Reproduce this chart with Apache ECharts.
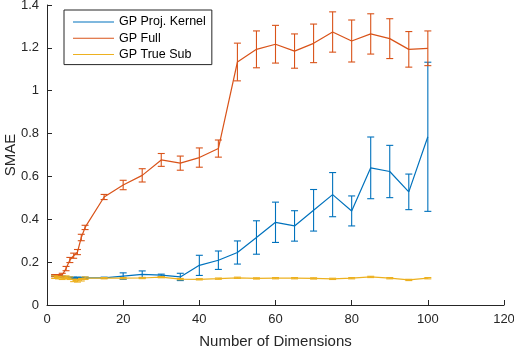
<!DOCTYPE html>
<html>
<head>
<meta charset="utf-8">
<script src="https://cdn.jsdelivr.net/npm/echarts@6/dist/echarts.min.js"></script>
<style>
	html, body { margin: 0; padding: 0; background: #fff; }
	#chart { width: 514px; height: 350px; }
</style>
</head>
<body>
<div id="chart"></div>
<script>
	// number of dimensions, same for all three methods
	var dims = [2, 3, 4, 5, 6, 7, 8, 9, 10, 15, 20, 25, 30, 35, 40, 45, 50, 55, 60, 65, 70, 75, 80, 85, 90, 95, 100]

	var projMean = [0.137, 0.135, 0.132, 0.128, 0.127, 0.127, 0.127, 0.126, 0.127, 0.127, 0.135, 0.143, 0.139, 0.131, 0.185, 0.209, 0.245, 0.315, 0.386, 0.369, 0.442, 0.515, 0.439, 0.640, 0.623, 0.528, 0.785]
	var projErr = [0.003, 0.003, 0.003, 0.003, 0.003, 0.003, 0.003, 0.003, 0.003, 0.003, 0.015, 0.016, 0.005, 0.017, 0.047, 0.043, 0.054, 0.078, 0.094, 0.071, 0.097, 0.103, 0.070, 0.144, 0.122, 0.083, 0.348]

	var fullMean = [0.137, 0.137, 0.140, 0.170, 0.210, 0.230, 0.247, 0.315, 0.362, 0.504, 0.560, 0.605, 0.677, 0.662, 0.688, 0.730, 1.134, 1.193, 1.217, 1.185, 1.221, 1.274, 1.232, 1.265, 1.243, 1.193, 1.198]
	var fullErr = [0.005, 0.005, 0.008, 0.010, 0.012, 0.012, 0.012, 0.015, 0.010, 0.012, 0.022, 0.031, 0.030, 0.033, 0.045, 0.040, 0.088, 0.086, 0.088, 0.080, 0.090, 0.094, 0.098, 0.094, 0.093, 0.083, 0.081]

	var subMean = [0.130, 0.128, 0.125, 0.130, 0.125, 0.115, 0.113, 0.118, 0.125, 0.125, 0.125, 0.126, 0.130, 0.121, 0.120, 0.123, 0.127, 0.124, 0.125, 0.125, 0.124, 0.122, 0.125, 0.131, 0.125, 0.117, 0.125]
	var subErr = [0.006, 0.006, 0.006, 0.006, 0.006, 0.006, 0.006, 0.006, 0.006, 0.003, 0.003, 0.003, 0.003, 0.003, 0.003, 0.003, 0.003, 0.003, 0.003, 0.003, 0.003, 0.003, 0.003, 0.003, 0.003, 0.003, 0.003]

	var names = ['GP Proj. Kernel', 'GP Full', 'GP True Sub']
	var colors = ['#0072BD', '#D95319', '#EDB120']
	var means = [projMean, fullMean, subMean]
	var errs = [projErr, fullErr, subErr]

	var axisColor = '#262626'
	var font = '"Liberation Sans", Arial, Helvetica, sans-serif'

	var chart = echarts.init(document.getElementById('chart'), null, { renderer: 'canvas' })

	function renderBar(params, api) {
		var x = api.value(0)
		var top = api.coord([x, api.value(2)])
		var bot = api.coord([x, api.value(1)])
		var w = 3.5
		var style = { stroke: api.visual('color'), lineWidth: 1.1 }
		return {
			type: 'group',
			children: [
				{ type: 'line', shape: { x1: top[0], y1: top[1], x2: bot[0], y2: bot[1] }, style: style },
				{ type: 'line', shape: { x1: top[0] - w, y1: top[1], x2: top[0] + w, y2: top[1] }, style: style },
				{ type: 'line', shape: { x1: bot[0] - w, y1: bot[1], x2: bot[0] + w, y2: bot[1] }, style: style }
			]
		}
	}

	var series = []
	for (let s = 0; s < names.length; s++) {
		const lineData = []
		const barData = []
		for (let i = 0; i < dims.length; i++) {
			lineData.push([dims[i], means[s][i]])
			barData.push([dims[i], means[s][i] - errs[s][i], means[s][i] + errs[s][i]])
		}
		series.push({
			name: names[s],
			type: 'line',
			data: lineData,
			symbol: 'none',
			color: colors[s],
			lineStyle: { width: 1.2, color: colors[s] },
			z: 2 + s * 2,
			animation: false
		})
		series.push({
			name: names[s],
			type: 'custom',
			data: barData,
			renderItem: renderBar,
			color: colors[s],
			encode: { x: 0, y: [1, 2] },
			z: 2 + s * 2,
			animation: false
		})
	}

	var option = {
		backgroundColor: '#fff',
		animation: false,
		textStyle: { fontFamily: font },
		grid: {
			left: 47,
			right: 10,
			top: 5,
			bottom: 45,
			outerBoundsMode: 'none',
			containLabel: false
		},
		legend: {
			data: names.map(function (n, i) {
				return { name: n, icon: 'path://M0,0L40,0L40,1L0,1Z', itemStyle: { color: colors[i] } }
			}),
			orient: 'vertical',
			left: 64,
			top: 10,
			itemWidth: 41,
			itemHeight: 2,
			itemGap: 2.3,
			padding: [5, 6, 3, 9],
			backgroundColor: '#fff',
			borderColor: axisColor,
			borderWidth: 1,
			borderRadius: 0,
			selectedMode: false,
			textStyle: { fontSize: 12.5, color: '#000', fontFamily: font, padding: [0, 0, 0, 0], lineHeight: 14 }
		},
		xAxis: {
			type: 'value',
			min: 0,
			max: 120,
			interval: 20,
			name: 'Number of Dimensions',
			nameLocation: 'middle',
			nameGap: 29,
			nameMoveOverlap: false,
			nameTextStyle: { fontSize: 15, color: axisColor },
			axisLine: { onZero: false, lineStyle: { color: axisColor, width: 1 } },
			axisTick: { inside: true, length: 5, lineStyle: { color: axisColor } },
			axisLabel: { fontSize: 13, color: axisColor, margin: 8 },
			splitLine: { show: false }
		},
		yAxis: {
			type: 'value',
			min: 0,
			max: 1.4,
			interval: 0.2,
			name: 'SMAE',
			nameLocation: 'middle',
			nameGap: 29,
			nameMoveOverlap: false,
			nameTextStyle: { fontSize: 15, color: axisColor },
			axisLine: { show: true, lineStyle: { color: axisColor, width: 1 } },
			axisTick: { show: true, inside: true, length: 5, lineStyle: { color: axisColor } },
			axisLabel: {
				fontSize: 13,
				color: axisColor,
				margin: 8,
				formatter: function (v) { return String(Math.round(v * 10) / 10) }
			},
			splitLine: { show: false }
		},
		series: series
	}
	chart.setOption(option)
</script>
</body>
</html>
